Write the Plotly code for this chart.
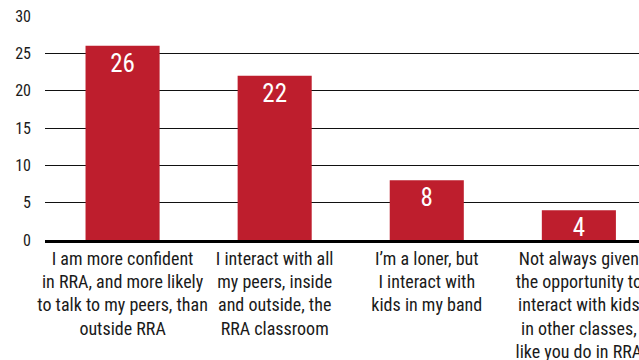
import plotly.graph_objects as go

categories = [
    "I am more confident<br>in RRA, and more likely<br>to talk to my peers, than<br>outside RRA",
    "I interact with all<br>my peers, inside<br>and outside, the<br>RRA classroom",
    "I’m a loner, but<br>I interact with<br>kids in my band",
    "Not always given<br>the opportunity to<br>interact with kids<br>in other classes,<br>like you do in RRA",
]
values = [26, 22, 8, 4]
y_ticks = [0, 5, 10, 15, 20, 25, 30]

FONT = "Liberation Sans Narrow, Roboto Condensed, Arial Narrow, sans-serif"

fig = go.Figure(go.Bar(
    x=list(range(len(categories))),
    y=values,
    text=[str(v) for v in values],
    textposition="inside",
    insidetextanchor="end",
    textangle=0,
    textfont=dict(color="white", size=25, family=FONT),
    constraintext="none",
    marker=dict(color="#BE1E2D", line=dict(width=0)),
    width=0.487,
))

fig.update_layout(
    width=639, height=360,
    margin=dict(l=45, r=0, t=16, b=120),
    paper_bgcolor="white", plot_bgcolor="white",
    showlegend=False,
    font=dict(family=FONT, color="#1a1a1a"),
    uniformtext=dict(minsize=25, mode="show"),
)
fig.update_xaxes(
    range=[-0.51, -0.51 + 594 / 152.1],
    tickmode="array",
    tickvals=list(range(len(categories))),
    ticktext=categories,
    tickangle=0,
    tickfont=dict(size=18, family=FONT, color="#1a1a1a"),
    ticklabeloverflow="allow",
    showline=True, linecolor="black", linewidth=3,
    showgrid=False, ticks="", automargin=False,
)
fig.update_yaxes(
    range=[0, 30],
    tickmode="array",
    tickvals=y_ticks,
    showgrid=True, gridcolor="#111111", gridwidth=1,
    zeroline=False,
    tickfont=dict(size=16, family=FONT, color="#1a1a1a"),
    ticks="", ticklabelstandoff=13, automargin=False,
)

fig.write_html("out.html")
